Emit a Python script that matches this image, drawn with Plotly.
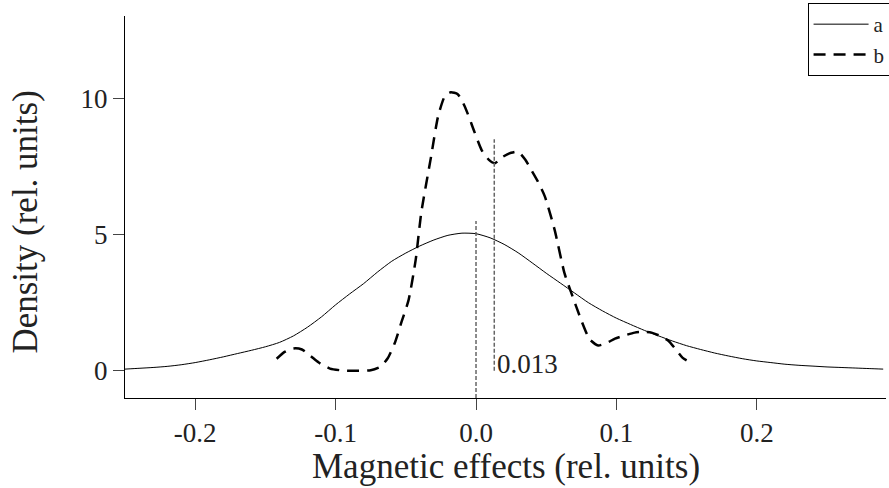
import plotly.graph_objects as go

# Series "a" (solid): density
a_x = [-0.25, -0.24, -0.23, -0.22, -0.21, -0.20, -0.19, -0.18, -0.17, -0.16,
       -0.15, -0.14, -0.13, -0.12, -0.11, -0.10, -0.09, -0.08, -0.07, -0.06,
       -0.05, -0.04, -0.03, -0.02, -0.01, 0.00, 0.01, 0.02, 0.03, 0.04,
       0.05, 0.06, 0.07, 0.08, 0.09, 0.10, 0.11, 0.12, 0.13, 0.14,
       0.15, 0.16, 0.17, 0.18, 0.19, 0.20, 0.21, 0.22, 0.23, 0.24,
       0.25, 0.26, 0.27, 0.28, 0.29]
a_y = [0.06, 0.09, 0.12, 0.16, 0.22, 0.30, 0.40, 0.51, 0.63, 0.75,
       0.88, 1.04, 1.28, 1.60, 1.98, 2.42, 2.82, 3.20, 3.63, 4.02,
       4.32, 4.58, 4.80, 4.97, 5.05, 5.03, 4.88, 4.64, 4.33, 3.96,
       3.58, 3.22, 2.86, 2.50, 2.20, 1.93, 1.70, 1.48, 1.28, 1.09,
       0.92, 0.78, 0.65, 0.54, 0.44, 0.36, 0.30, 0.24, 0.20, 0.17,
       0.14, 0.12, 0.10, 0.08, 0.06]

# Series "b" (dashed)
b_x = [-0.142, -0.136, -0.130, -0.124, -0.118, -0.112, -0.104, -0.095, -0.085, -0.075,
       -0.068, -0.063, -0.058, -0.053, -0.048, -0.043, -0.039, -0.032, -0.027, -0.022,
       -0.018, -0.013, -0.008, -0.001, 0.004, 0.009, 0.0135, 0.019, 0.025, 0.030,
       0.035, 0.039, 0.044, 0.049, 0.056, 0.063, 0.068, 0.075, 0.081, 0.087,
       0.093, 0.099, 0.106, 0.113, 0.120, 0.125, 0.131, 0.137, 0.142, 0.147, 0.150]
b_y = [0.44, 0.70, 0.82, 0.78, 0.55, 0.30, 0.08, 0.01, 0.00, 0.02,
       0.15, 0.45, 1.00, 1.80, 2.60, 4.06, 5.80, 7.86, 9.34, 10.10,
       10.22, 10.15, 9.70, 8.75, 8.10, 7.75, 7.62, 7.85, 8.00, 8.04,
       7.75, 7.40, 6.95, 6.40, 5.17, 3.58, 2.84, 1.85, 1.15, 0.93,
       1.02, 1.18, 1.30, 1.40, 1.43, 1.40, 1.28, 1.10, 0.80, 0.48, 0.38]

# Reference markers
marker_x = [0.0, 0.013]
marker_y0 = [-1.0, 0.0]
marker_y1 = [5.5, 8.5]
marker_label = "0.013"

x_tickvals = [-0.2, -0.1, 0.0, 0.1, 0.2]
x_ticktext = ["-0.2", "-0.1", "0.0", "0.1", "0.2"]
y_tickvals = [0, 5, 10]
y_ticktext = ["0", "5", "10"]

FONT = "Liberation Serif"

fig = go.Figure()
fig.add_trace(go.Scatter(x=a_x, y=a_y, mode="lines", name="a",
                         line=dict(color="black", width=1, shape="spline", smoothing=0.6)))
fig.add_trace(go.Scatter(x=b_x, y=b_y, mode="lines", name="b",
                         line=dict(color="black", width=2.5, dash="12px,8px",
                                   shape="spline", smoothing=0.6)))
for mx, my0, my1 in zip(marker_x, marker_y0, marker_y1):
    fig.add_trace(go.Scatter(x=[mx, mx], y=[my0, my1], mode="lines", showlegend=False,
                             hoverinfo="skip",
                             line=dict(color="#666666", width=1.5, dash="4px,2px")))

fig.add_annotation(x=marker_x[1], y=0.25, text=marker_label, showarrow=False,
                   xanchor="left", yanchor="middle", xshift=1,
                   font=dict(family=FONT, size=27, color="#222"))

fig.add_annotation(xref="paper", yref="paper", x=0.5, y=-0.18, yanchor="middle",
                   text="Magnetic effects (rel. units)", showarrow=False,
                   font=dict(family=FONT, size=35, color="#222"))
fig.add_annotation(xref="paper", yref="paper", x=-0.131, y=0.46, xanchor="center",
                   yanchor="middle", textangle=-90,
                   text="Density (rel. units)", showarrow=False,
                   font=dict(family=FONT, size=35, color="#222"))

fig.update_layout(
    width=889, height=488,
    margin=dict(l=125, r=3, t=16, b=90, autoexpand=False),
    paper_bgcolor="white", plot_bgcolor="white",
    font=dict(family=FONT, size=27, color="#222"),
    showlegend=True,
    legend=dict(x=1.006, xanchor="right", y=1.034, yanchor="top",
                bordercolor="black", borderwidth=1, bgcolor="white",
                font=dict(family=FONT, size=21, color="#222"),
                tracegroupgap=0, itemwidth=55),
)
fig.update_xaxes(range=[-0.25, 0.292], tickvals=x_tickvals, ticktext=x_ticktext,
                 showline=True, linecolor="black", linewidth=1, mirror=False,
                 ticks="outside", ticklen=11, tickcolor="#444", showgrid=False,
                 zeroline=False)
fig.update_yaxes(range=[-1.0, 13.02], tickvals=y_tickvals, ticktext=y_ticktext,
                 showline=True, linecolor="black", linewidth=1, mirror=False,
                 ticks="outside", ticklen=11, tickcolor="#444", showgrid=False,
                 zeroline=False)

fig.write_html("out.html", config={"displayModeBar": False},
               post_script="document.body.style.margin='0';")
